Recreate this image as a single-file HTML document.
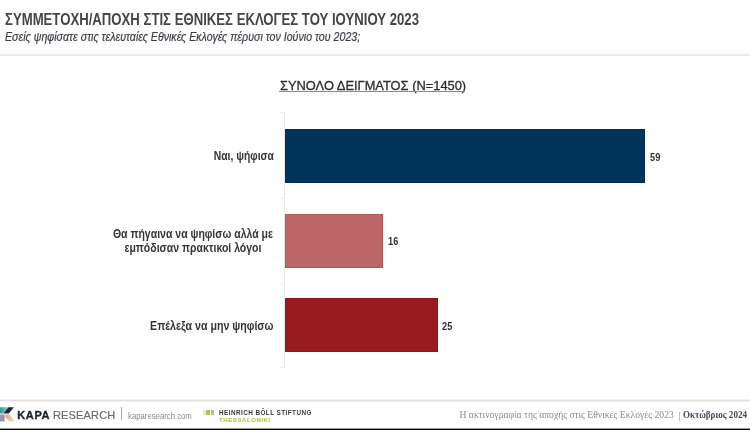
<!DOCTYPE html>
<html><head><meta charset="utf-8">
<style>
*{margin:0;padding:0;box-sizing:border-box}
html,body{width:750px;height:430px;overflow:hidden;background:#fff}
body{position:relative;font-family:"Liberation Sans",sans-serif}
.abs{position:absolute;white-space:nowrap;line-height:1}
#title{left:5px;top:12.3px;font-size:15.8px;font-weight:bold;color:#464646;transform-origin:0 0;transform:scaleX(0.833)}
#sub{left:5px;top:30.5px;font-size:12.5px;font-style:italic;color:#3b3d46;-webkit-text-stroke:0.2px #3b3d46;transform-origin:0 0;transform:scaleX(0.851)}
#sep1{left:0;top:54px;width:750px;height:2px;background:#ebebeb}
#total{left:280px;top:79px;font-size:13.5px;color:#2b2b2b;-webkit-text-stroke:0.3px #2b2b2b;transform-origin:0 0;transform:scaleX(0.953)}
#uline{left:279px;top:91px;width:186px;height:1px;background:#8c8c8c}
.axis{position:absolute;left:284px;top:112px;width:1px;height:256px;background:#eaeaea}
.tick{position:absolute;left:281px;width:4px;height:1px;background:#eaeaea}
.bar{position:absolute;left:285px;height:54px;box-shadow:inset 0 0 0 1px rgba(0,0,0,0.1)}
.val{position:absolute;font-size:10.5px;font-weight:bold;color:#333;line-height:1;transform-origin:0 50%;transform:scaleX(0.88)}
.lab{position:absolute;right:476.5px;font-size:12px;font-weight:bold;color:#363636;text-align:center;line-height:14.4px;transform-origin:100% 50%;transform:scaleX(0.86)}
#sep2{left:0;top:399px;width:750px;height:3px;background:linear-gradient(#f2f2f2 0 33.3%,#e0e0e0 33.3% 66.6%,#f4f4f4 66.6% 100%)}
#bottom{left:0;top:428px;width:750px;height:2px;background:linear-gradient(#9a9a9a 0 50%,#000 50% 100%)}
body>*{filter:blur(0.35px)}</style></head><body>
<div id="title" class="abs">ΣΥΜΜΕΤΟΧΗ/ΑΠΟΧΗ ΣΤΙΣ ΕΘΝΙΚΕΣ ΕΚΛΟΓΕΣ ΤΟΥ ΙΟΥΝΙΟΥ 2023</div>
<div id="sub" class="abs">Εσείς ψηφίσατε στις τελευταίες Εθνικές Εκλογές πέρυσι τον Ιούνιο του 2023;</div>
<div id="sep1" class="abs"></div>
<div id="total" class="abs">ΣΥΝΟΛΟ ΔΕΙΓΜΑΤΟΣ (N=1450)</div>
<div id="uline" class="abs"></div>

<div class="axis"></div>
<div class="tick" style="top:112px"></div>
<div class="tick" style="top:198px"></div>
<div class="tick" style="top:283px"></div>
<div class="tick" style="top:367px"></div>

<div class="bar" style="top:129px;width:360px;background:#01345a"></div>
<div class="bar" style="top:214px;width:98px;background:#bd6667"></div>
<div class="bar" style="top:298px;width:153px;background:#9a1b1e"></div>

<div class="val" style="left:650px;top:152px">59</div>
<div class="val" style="left:388px;top:236px">16</div>
<div class="val" style="left:442px;top:321px">25</div>

<div class="lab" style="top:149px">Ναι, ψήφισα</div>
<div class="lab" style="top:226.5px;line-height:14.8px;transform:scaleX(0.875)">Θα πήγαινα να ψηφίσω αλλά με<br>εμπόδισαν πρακτικοί λόγοι</div>
<div class="lab" style="top:319px;transform:scaleX(0.885)">Επέλεξα να μην ψηφίσω</div>

<div id="sep2" class="abs"></div>

<svg class="abs" style="left:0;top:403px" width="16" height="20" viewBox="0 0 16 20">
  <defs>
    <linearGradient id="gt" x1="0" y1="0" x2="1" y2="0"><stop offset="0" stop-color="#3a938f"/><stop offset="1" stop-color="#8fd3cb"/></linearGradient>
    <linearGradient id="go" x1="0" y1="0" x2="1" y2="1"><stop offset="0" stop-color="#dca886"/><stop offset="1" stop-color="#f1dca6"/></linearGradient>
    <linearGradient id="gl" x1="0" y1="0" x2="1" y2="1"><stop offset="0" stop-color="#a79db5"/><stop offset="1" stop-color="#8f86a0"/></linearGradient>
  </defs>
  <polygon points="0,4.2 8.6,4.2 3.8,10.6 0,10.6" fill="url(#gt)"/>
  <polygon points="8.4,4.2 13.9,4.2 8.8,10.6 3.6,10.6" fill="#1a2638"/>
  <polygon points="0,11.4 4.6,11.4 4.6,18.4 0,18.4" fill="url(#gl)"/>
  <polygon points="5.3,11.4 9.2,11.4 14.6,18.4 9.8,18.4 5.3,14.6" fill="url(#go)"/>
</svg>
<div class="abs" style="left:17.2px;top:409.7px;font-size:11px;font-weight:bold;color:#1d2533;letter-spacing:0.65px;-webkit-text-stroke:0.35px #1d2533">KAPA</div>
<div class="abs" style="left:53px;top:409.7px;font-size:11px;color:#6b6b6b;letter-spacing:0.15px;-webkit-text-stroke:0.2px #6b6b6b">RESEARCH</div>
<div class="abs" style="left:120.5px;top:407px;width:1px;height:13px;background:#a8a8a8"></div>
<div class="abs" style="left:127.5px;top:411.5px;font-size:8.3px;color:#8a8a8a;transform-origin:0 0;transform:scaleX(0.935)">kaparesearch.com</div>
<div class="abs" style="left:203px;top:410px;width:2.5px;height:5px;background:#e4eeb8"></div>
<div class="abs" style="left:206.3px;top:410px;width:3.6px;height:5px;background:#adc558"></div>
<div class="abs" style="left:210.5px;top:410px;width:3.8px;height:5px;background:#b3ca60"></div>
<div class="abs" style="left:219px;top:410px;font-size:6.4px;font-weight:bold;color:#3a3a3a;letter-spacing:0.42px">HEINRICH BÖLL STIFTUNG</div>
<div class="abs" style="left:219px;top:417.2px;font-size:6px;font-weight:bold;color:#b0ca55;letter-spacing:0.6px;-webkit-text-stroke:0.15px #b0ca55">THESSALONIKI</div>
<div class="abs" style="left:459.5px;top:410.3px;font-family:'Liberation Serif',serif;font-size:9.65px;color:#8c8c8c">Η ακτινογραφία της αποχής στις Εθνικές Εκλογές 2023</div>
<div class="abs" style="left:678.8px;top:411.5px;width:1px;height:9px;background:#bdbdbd"></div>
<div class="abs" style="left:683.2px;top:410.3px;font-family:'Liberation Serif',serif;font-size:9.65px;font-weight:bold;color:#434d5c;transform-origin:0 0;transform:scaleX(0.94)">Οκτώβριος 2024</div>
<div id="bottom" class="abs"></div>
</body></html>
